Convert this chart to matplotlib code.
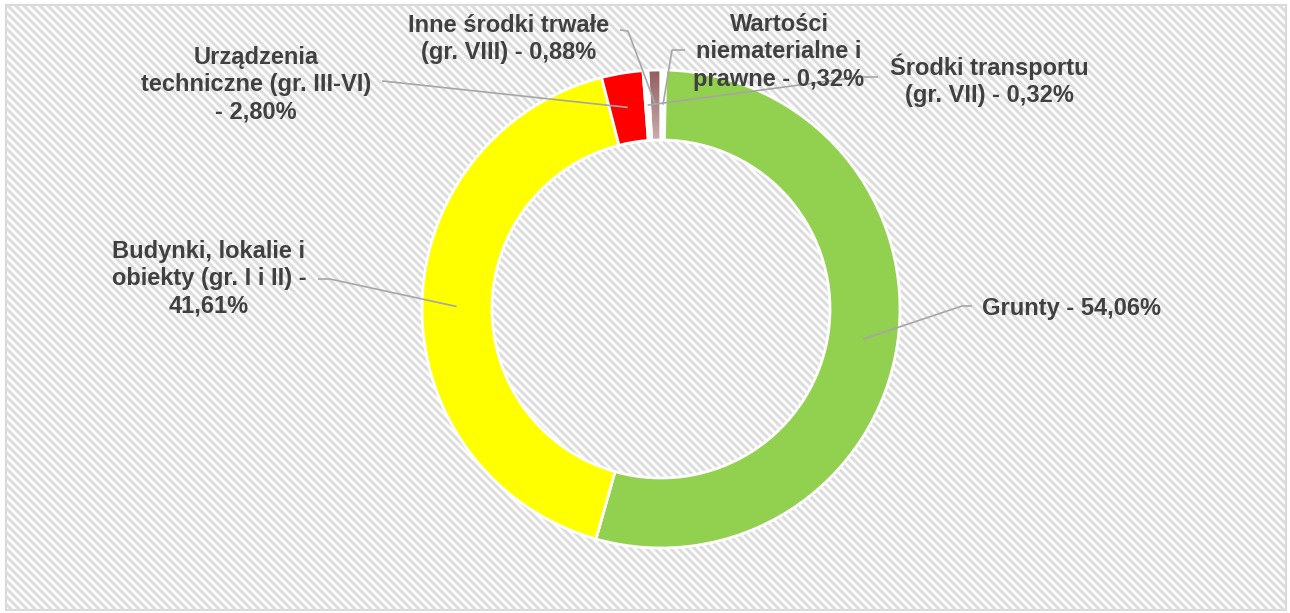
import numpy as np
import matplotlib.pyplot as plt
from matplotlib.collections import LineCollection
from matplotlib.colors import LinearSegmentedColormap
from matplotlib.patches import Rectangle

W, H = 1290, 613

# slices, clockwise from 12 o'clock
names = ['Wartości\nniematerialne i\nprawne',
         'Grunty',
         'Budynki, lokalie i\nobiekty (gr. I i II)',
         'Urządzenia\ntechniczne (gr. III-VI)',
         'Środki transportu\n(gr. VII)',
         'Inne środki trwałe\n(gr. VIII)']
shares = [0.32, 54.06, 41.61, 2.80, 0.32, 0.88]
colors = ['white', '#92d050', '#ffff00', '#ff0000', 'white', '#a87474']

# label placement in image pixels (x, y from top) + leader elbow points
seps = [' - ', ' - ', ' -\n', '\n- ', ' - ', ' - ']
text_pos = [(779, 52), (982, 308), (209, 279), (256, 85), (989, 80), (509, 39)]
text_ha = ['center', 'left', 'center', 'center', 'center', 'center']
elbows = [[(685, 50), (672, 50)],
          [(972, 306), (962, 306)],
          [(318, 279), (330, 279)],
          [(382, 81), (392, 82)],
          [(878, 77), (860, 77)],
          [(620, 30), (628, 31)]]

CX, CY = 661, H - 309
R, RING = 239, 70
TXT = '#404040'
LEAD = '#a6a6a6'


def img(p):
    return p[0], H - p[1]


fig = plt.figure(figsize=(W / 100, H / 100), dpi=100)
ax = fig.add_axes([0, 0, 1, 1])

# hatched background inside a thin border
border = Rectangle((6, 3), W - 10, H - 8, facecolor='white',
                   edgecolor='#d9d9d9', linewidth=1.5, zorder=0)
ax.add_patch(border)
segs = []
for c in range(-W, H + 10, 8):
    segs.append([(0, H - c), (W, H - (W + c))])
hatch = LineCollection(segs, colors='#dcdcdc', linewidths=2.1, zorder=0.5)
ax.add_collection(hatch)
hatch.set_clip_path(border)

wedges, _ = ax.pie(shares, colors=colors, startangle=90, counterclock=False,
                   center=(CX, CY), radius=R, normalize=True,
                   wedgeprops=dict(width=RING, edgecolor='white', linewidth=2))
for w in wedges:
    w.set_zorder(2)

# gradient fill for the small brown slice (dark at the outer edge)
brown = wedges[5]
grad = np.linspace(0, 1, 64).reshape(-1, 1)
cmap = LinearSegmentedColormap.from_list('br', ['#cbadad', '#935d5d'])
im = ax.imshow(grad, cmap=cmap, extent=(CX - 30, CX + 5, CY + R - RING, CY + R),
               origin='lower', aspect='auto', zorder=1.5, interpolation='bilinear')
im.set_clip_path(brown)
brown.set_facecolor('none')

# labels and leader lines
cum = np.cumsum([0] + shares)
total = sum(shares)
for i, name in enumerate(names):
    mid = 90 - (cum[i] + shares[i] / 2) / total * 360
    ax_pt = (CX + 0.855 * R * np.cos(np.radians(mid)),
             CY + 0.855 * R * np.sin(np.radians(mid)))
    pts = [img(p) for p in elbows[i]] + [ax_pt]
    ax.plot([p[0] for p in pts], [p[1] for p in pts], color=LEAD, lw=1.2,
            zorder=4, solid_capstyle='butt')
    pct = f'{shares[i]:.2f}'.replace('.', ',') + '%'
    tx, ty = img(text_pos[i])
    ax.text(tx, ty, name + seps[i] + pct, ha=text_ha[i], va='center',
            multialignment='center', fontsize=17, fontweight='bold',
            family=['Liberation Sans', 'DejaVu Sans'], color=TXT,
            linespacing=1.25, zorder=5)

ax.set_xlim(0, W)
ax.set_ylim(0, H)
ax.set_aspect('auto')
ax.axis('off')

fig.savefig('out.png', dpi=100)
